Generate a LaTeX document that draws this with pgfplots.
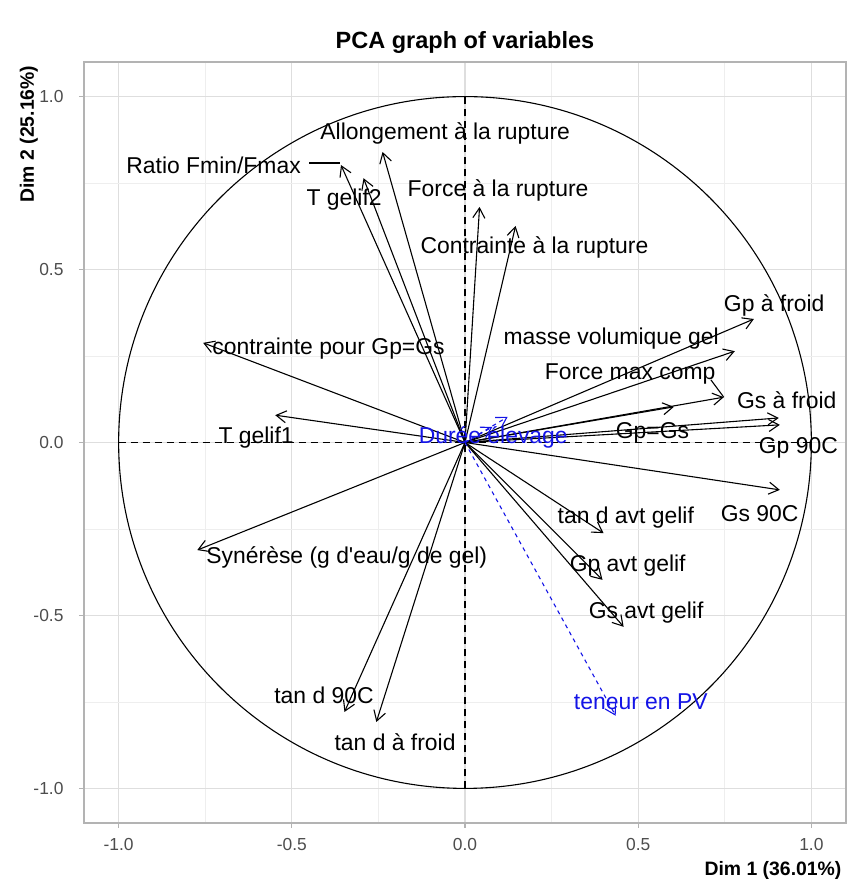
\documentclass[border=0pt]{standalone}
\usepackage{fontspec}
\setmainfont{Liberation Sans}
\usepackage{pgfplots}
\pgfplotsset{compat=1.18}
\usetikzlibrary{arrows.meta}
\definecolor{gridmaj}{RGB}{222,222,222}
\definecolor{gridmin}{RGB}{238,238,238}
\definecolor{framegrey}{RGB}{179,179,179}
\definecolor{ticktext}{RGB}{77,77,77}
\definecolor{supblue}{RGB}{20,20,230}
\newcommand{\varr}[2]{\addplot[black, line width=1.1pt, -{Straight Barb[length=10pt,width=12pt]}] coordinates {(0,0) (#1,#2)};}
\newcommand{\sarr}[2]{\addplot[supblue, line width=1.1pt, dash pattern=on 4pt off 4pt, -{Straight Barb[length=10pt,width=12pt]}] coordinates {(0,0) (#1,#2)};}
\begin{document}
\begin{tikzpicture}[lab/.style={font=\fontsize{22.9}{27}\selectfont, inner sep=0pt, text height=16.4pt, text depth=0pt, anchor=west}]
\begin{axis}[
  at={(0,0)}, anchor=south west,
  scale only axis, width=762pt, height=761pt,
  xmin=-1.1, xmax=1.1, ymin=-1.1, ymax=1.1,
  xtick={-1,-0.5,0,0.5,1}, ytick={-1,-0.5,0,0.5,1},
  xticklabels={-1.0,-0.5,0.0,0.5,1.0}, yticklabels={-1.0,-0.5,0.0,0.5,1.0},
  minor xtick={-0.75,-0.25,0.25,0.75}, minor ytick={-0.75,-0.25,0.25,0.75},
  grid=both,
  major grid style={gridmaj, line width=1.3pt},
  minor grid style={gridmin, line width=0.8pt},
  axis line style={framegrey, line width=1.3pt},
  major tick style={framegrey, line width=1.1pt},
  minor tick length=0pt, major tick length=5pt,
  tick align=outside, xtick pos=bottom, ytick pos=left,
  ticklabel style={font=\fontsize{17.4}{20}\selectfont, text=ticktext},
  xticklabel style={yshift=-7pt},
  yticklabel style={xshift=-12pt},
  clip=false,
]
% reference elements
\draw[black, line width=1.1pt] (axis cs:0,0) ellipse [x radius=1, y radius=1];
\addplot[black, line width=1.1pt, dash pattern=on 7pt off 5pt] coordinates {(-1,0) (1,0)};
\addplot[black, line width=1.1pt, dash pattern=on 7pt off 5pt] coordinates {(0,-1) (0,1)};
% active variables
\varr{-0.358}{0.802}  % Ratio Fmin/Fmax
\varr{-0.293}{0.764}  % T gelif2
\varr{-0.238}{0.840}  % Allongement
\varr{0.042}{0.681}   % Force a la rupture
\varr{0.146}{0.626}   % Contrainte a la rupture
\varr{-0.756}{0.288}  % contrainte pour Gp=Gs
\varr{-0.548}{0.079}  % T gelif1
\varr{-0.773}{-0.311} % Synerese
\varr{-0.348}{-0.779} % tan d 90C
\varr{-0.256}{-0.808} % tan d a froid
\varr{0.834}{0.357}   % Gp a froid
\varr{0.779}{0.264}   % masse volumique gel
\varr{0.747}{0.131}   % Force max comp
\varr{0.906}{0.071}   % Gs a froid
\varr{0.909}{0.051}   % Gp 90C
\varr{0.603}{0.103}   % Gp=Gs
\varr{0.909}{-0.137}  % Gs 90C
\varr{0.400}{-0.262}  % tan d avt gelif
\varr{0.397}{-0.397}  % Gp avt gelif
\varr{0.458}{-0.533}  % Gs avt gelif
% label segments
\addplot[black, line width=1.1pt] coordinates {(-0.449,0.808) (-0.360,0.808)};
\addplot[black, line width=1.1pt] coordinates {(0.710,0.181) (0.747,0.131)};
% supplementary variables
\sarr{0.435}{-0.790}  % teneur en PV
\sarr{0.123}{0.074}   % Duree elevage
\sarr{0.079}{0.045}
% labels
\node[lab] at (axis cs:-0.418,0.901) {Allongement à la rupture};
\node[lab] at (axis cs:-0.978,0.802) {Ratio Fmin/Fmax};
\node[lab] at (axis cs:-0.458,0.708) {T gelif2};
\node[lab] at (axis cs:-0.166,0.734) {Force à la rupture};
\node[lab] at (axis cs:-0.129,0.569) {Contrainte à la rupture};
\node[lab] at (axis cs:-0.730,0.279) {contrainte pour Gp=Gs};
\node[lab] at (axis cs:-0.712,0.020) {T gelif1};
\node[lab] at (axis cs:-0.747,-0.325) {Synérèse (g d\textquotesingle eau/g de gel)};
\node[lab] at (axis cs:-0.551,-0.730) {tan d 90C};
\node[lab] at (axis cs:-0.377,-0.868) {tan d à froid};
\node[lab] at (axis cs:0.747,0.403) {Gp à froid};
\node[lab] at (axis cs:0.111,0.308) {masse volumique gel};
\node[lab] at (axis cs:0.230,0.207) {Force max comp};
\node[lab] at (axis cs:0.785,0.123) {Gs à froid};
\node[lab] at (axis cs:0.435,0.036) {Gp=Gs};
\node[lab] at (axis cs:0.848,-0.007) {Gp 90C};
\node[lab] at (axis cs:0.738,-0.204) {Gs 90C};
\node[lab] at (axis cs:0.267,-0.210) {tan d avt gelif};
\node[lab] at (axis cs:0.302,-0.350) {Gp avt gelif};
\node[lab] at (axis cs:0.357,-0.486) {Gs avt gelif};
\node[lab, text=supblue] at (axis cs:0.314,-0.748) {teneur en PV};
\node[lab, text=supblue] at (axis cs:-0.134,0.020) {Durée élevage};
% titles
\node[anchor=base, font=\bfseries\fontsize{23.5}{28}\selectfont] at (rel axis cs:0.5,1) [yshift=13.5pt] {PCA graph of variables};
\node[anchor=base east, font=\bfseries\fontsize{19.4}{23}\selectfont] at (rel axis cs:1,0) [yshift=-52pt, xshift=-1pt] {Dim 1 (36.01\%)};
\node[xshift=-50pt, anchor=base east, rotate=90, font=\bfseries\fontsize{19.4}{23}\selectfont] at (rel axis cs:0,1) {Dim 2 (25.16\%)};
\end{axis}
\pgfresetboundingbox
\path (-84pt,-59pt) rectangle (763pt,823pt);
\end{tikzpicture}
\end{document}
